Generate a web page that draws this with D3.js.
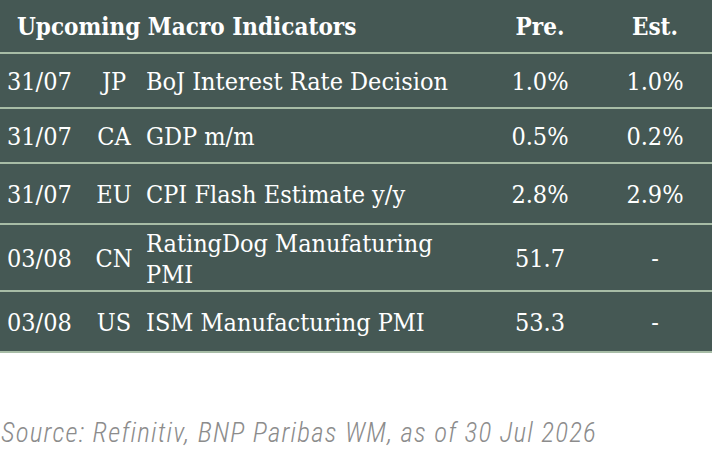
<!DOCTYPE html>
<html>
<head>
<meta charset="utf-8">
<script src="https://cdn.jsdelivr.net/npm/d3@7"></script>
<style>
  body { margin: 0; background: #fff; }
</style>
</head>
<body>
<svg id="table"></svg>
<script>
// table content
var title = "Upcoming Macro Indicators";
var colHeads = ["Pre.", "Est."];
var dates = ["31/07", "31/07", "31/07", "03/08", "03/08"];
var countries = ["JP", "CA", "EU", "CN", "US"];
var events = ["BoJ Interest Rate Decision", "GDP m/m", "CPI Flash Estimate y/y", "RatingDog Manufaturing PMI", "ISM Manufacturing PMI"];
var previous = ["1.0%", "0.5%", "2.8%", "51.7", "53.3"];
var estimates = ["1.0%", "0.2%", "2.9%", "-", "-"];
var source = "Source: Refinitiv, BNP Paribas WM, as of 30 Jul 2026";

var width = 712, height = 458;
var headH = 53;
var rowH = [55, 55, 61, 67, 61];
var bg = "#455854", rule = "#a7bca6";
var font = "'DejaVu Serif Condensed', 'DejaVu Serif', serif";
var eventMax = 320, lineGap = 31;

var svg = d3.select("#table")
  .attr("width", width)
  .attr("height", height);

// cumulative row edges
var edges = [headH];
rowH.forEach(function(h, i) { edges.push(edges[i] + h); });

var rows = dates.map(function(d, i) {
  return {date: d, country: countries[i], event: events[i], pre: previous[i], est: estimates[i],
          top: edges[i], bottom: edges[i + 1]};
});

svg.append("rect")
  .attr("x", 0).attr("y", 0)
  .attr("width", width).attr("height", edges[edges.length - 1])
  .attr("fill", bg);

// header
svg.append("text")
  .attr("x", 17).attr("y", 35)
  .style("font-family", font).style("font-weight", "bold").style("font-size", "24px")
  .style("fill", "#fff")
  .text(title);

var colX = [540, 655];
svg.selectAll(".colhead")
  .data(colHeads)
  .enter().append("text")
  .attr("class", "colhead")
  .attr("x", function(d, i) { return colX[i]; })
  .attr("y", 35)
  .attr("text-anchor", "middle")
  .style("font-family", font).style("font-weight", "bold").style("font-size", "24px")
  .style("fill", "#fff")
  .text(function(d) { return d; });

// row rules
svg.selectAll(".rule")
  .data(edges)
  .enter().append("line")
  .attr("class", "rule")
  .attr("x1", 0).attr("x2", width)
  .attr("y1", function(d) { return d; })
  .attr("y2", function(d) { return d; })
  .attr("stroke", rule)
  .attr("stroke-width", 2);

var g = svg.selectAll(".row")
  .data(rows)
  .enter().append("g")
  .attr("class", "row")
  .attr("transform", function(d) { return "translate(0," + ((d.top + d.bottom) / 2 + 9.5) + ")"; })
  .style("font-family", font).style("font-size", "25px")
  .style("fill", "#fff");

g.append("text").attr("x", 7).text(function(d) { return d.date; });
g.append("text").attr("x", 114).attr("text-anchor", "middle").text(function(d) { return d.country; });
g.append("text").attr("x", colX[0]).attr("text-anchor", "middle").text(function(d) { return d.pre; });
g.append("text").attr("x", colX[1]).attr("text-anchor", "middle").text(function(d) { return d.est; });

// event names, wrapped to the column width
g.each(function(d) {
  var t = d3.select(this).append("text").attr("x", 146);
  var words = d.event.split(" "), lines = [], cur = [];
  var probe = t.append("tspan");
  words.forEach(function(w) {
    probe.text(cur.concat(w).join(" "));
    if (cur.length && probe.node().getComputedTextLength() > eventMax) {
      lines.push(cur.join(" "));
      cur = [w];
    } else {
      cur.push(w);
    }
  });
  lines.push(cur.join(" "));
  probe.remove();
  var off = (lines.length - 1) / 2;
  t.selectAll("tspan")
    .data(lines)
    .enter().append("tspan")
    .attr("x", 146)
    .attr("y", function(l, i) { return (i - off) * lineGap; })
    .text(function(l) { return l; });
});

// source note
svg.append("text")
  .attr("x", 1).attr("y", 442)
  .style("font-family", "'Roboto Condensed', 'Liberation Sans Narrow', sans-serif")
  .style("font-style", "italic").style("font-weight", 300).style("font-size", "27px")
  .style("letter-spacing", "1.2px")
  .style("fill", "#8c8c8c")
  .text(source);
</script>
</body>
</html>
